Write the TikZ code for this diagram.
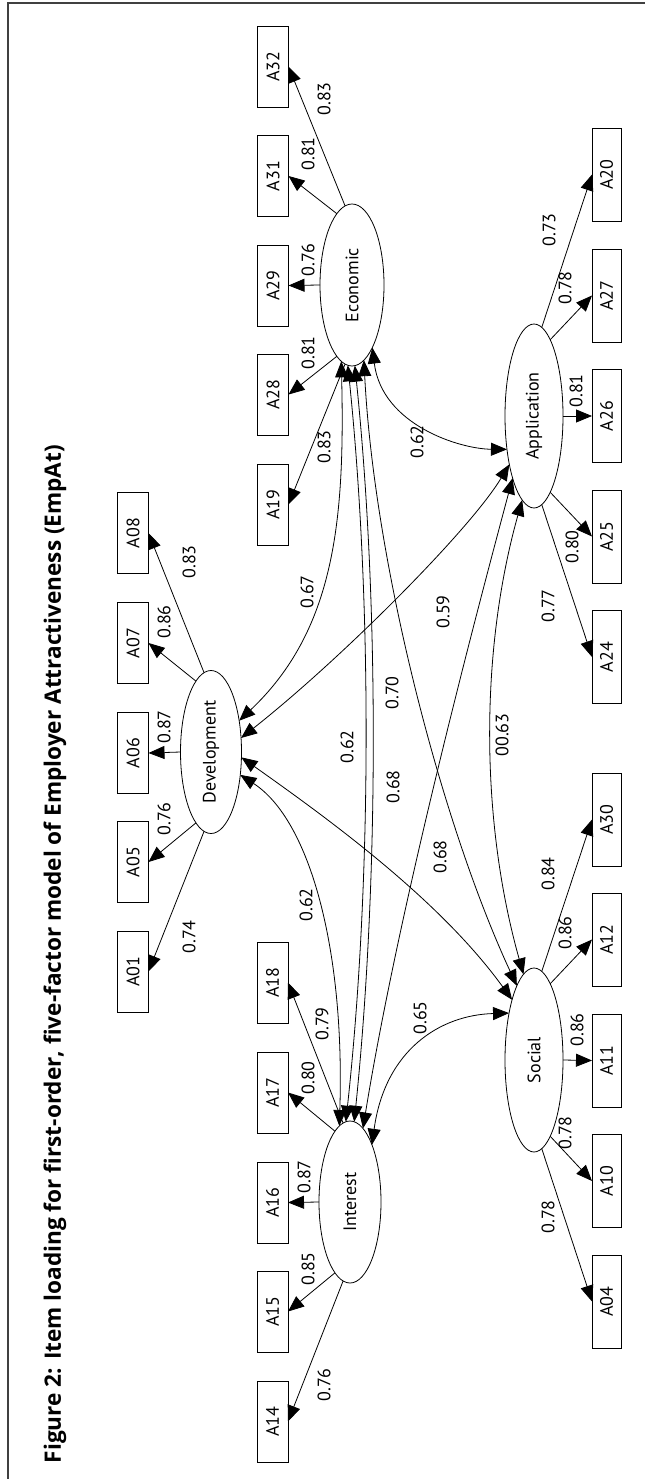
\documentclass[tikz,border=0pt]{standalone}
\usepackage{fontspec}
\setmainfont{PT Sans}
\newfontfamily\titlefont{Open Sans}
\usetikzlibrary{arrows.meta,shapes.geometric}
\newcommand{\rotlbl}[1]{\rotatebox{90}{#1}}

\begin{document}
\begin{tikzpicture}[x=1pt,y=-1pt,
  every node/.style={inner sep=0pt,outer sep=0pt},
  txt/.style={font=\fontsize{18}{18}\selectfont},
  obs/.style={txt,draw,line width=0.8pt,minimum width=31pt,minimum height=81pt},
  obsr/.style={obs,minimum width=29pt,minimum height=93pt},
  lat/.style={txt,draw,ellipse,line width=0.8pt},
  num/.style={txt},
  load/.style={-{Triangle[length=16pt,width=13pt]},line width=0.8pt},
  cov/.style={{Triangle[length=16pt,width=13pt]}-{Triangle[length=16pt,width=13pt]},line width=0.8pt},
  frame/.style={line width=1.3pt,black!75},
]
\useasboundingbox (0,0) rectangle (645,1479);

% corner of the surrounding frame
\draw[frame] (8,1479) -- (8,3) -- (645,3);

% title
\node (title) at (55,954) {\rotlbl{\titlefont\fontsize{22.6}{22.6}\selectfont\bfseries Figure 2: Item loading for first-order, five-factor model of Employer Attractiveness (EmpAt)}};

% latent factors
\node[lat,minimum width=64pt,minimum height=162pt] (eco) at (352,285) {\rotlbl{Economic}};
\node[lat,minimum width=58pt,minimum height=184pt] (app) at (534,416) {\rotlbl{Application}};
\node[lat,minimum width=61pt,minimum height=163pt] (dev) at (211,752) {\rotlbl{Development}};
\node[lat,minimum width=62pt,minimum height=162pt] (int) at (350,1202) {\rotlbl{Interest}};
\node[lat,minimum width=58pt,minimum height=184pt] (soc) at (534,1060) {\rotlbl{Social}};

% indicators: Economic
\node[obs] (a32) at (273,66.5) {\rotlbl{A32}};
\node[obs] (a31) at (273,176) {\rotlbl{A31}};
\node[obs] (a29) at (273,285.5) {\rotlbl{A29}};
\node[obs] (a28) at (273,394.5) {\rotlbl{A28}};
\node[obs] (a19) at (273,504.5) {\rotlbl{A19}};
% indicators: Development
\node[obs] (a08) at (133,533) {\rotlbl{A08}};
\node[obs] (a07) at (133,643) {\rotlbl{A07}};
\node[obs] (a06) at (133,753) {\rotlbl{A06}};
\node[obs] (a05) at (133,862) {\rotlbl{A05}};
\node[obs] (a01) at (133,971.5) {\rotlbl{A01}};
% indicators: Interest
\node[obs] (a18) at (272.5,982.5) {\rotlbl{A18}};
\node[obs] (a17) at (272.5,1092.5) {\rotlbl{A17}};
\node[obs] (a16) at (272.5,1202.5) {\rotlbl{A16}};
\node[obs] (a15) at (272.5,1311.5) {\rotlbl{A15}};
\node[obs] (a14) at (272.5,1421.5) {\rotlbl{A14}};
% indicators: Application
\node[obsr] (a20) at (606.5,174.5) {\rotlbl{A20}};
\node[obsr] (a27) at (606.5,295.5) {\rotlbl{A27}};
\node[obsr] (a26) at (606.5,416) {\rotlbl{A26}};
\node[obsr] (a25) at (606.5,536.5) {\rotlbl{A25}};
\node[obsr] (a24) at (606.5,657) {\rotlbl{A24}};
% indicators: Social
\node[obsr] (a30) at (606.5,819.5) {\rotlbl{A30}};
\node[obsr] (a12) at (606.5,939.5) {\rotlbl{A12}};
\node[obsr] (a11) at (606.5,1060.5) {\rotlbl{A11}};
\node[obsr] (a10) at (606.5,1181) {\rotlbl{A10}};
\node[obsr] (a04) at (606.5,1301.5) {\rotlbl{A04}};

% loadings
\draw[load] (eco.95) -- (a32.east);
\draw[load] (eco.102) -- (a31.east);
\draw[load] (eco.180) -- (a29.east);
\draw[load] (eco.258) -- (a28.east);
\draw[load] (eco.265) -- (a19.east);

\draw[load] (dev.95) -- (a08.east);
\draw[load] (dev.102) -- (a07.east);
\draw[load] (dev.180) -- (a06.east);
\draw[load] (dev.258) -- (a05.east);
\draw[load] (dev.265) -- (a01.east);

\draw[load] (int.95) -- (a18.east);
\draw[load] (int.102) -- (a17.east);
\draw[load] (int.180) -- (a16.east);
\draw[load] (int.258) -- (a15.east);
\draw[load] (int.265) -- (a14.east);

\draw[load] (app.85) -- (a20.west);
\draw[load] (app.78) -- (a27.west);
\draw[load] (app.0) -- (a26.west);
\draw[load] (app.282) -- (a25.west);
\draw[load] (app.275) -- (a24.west);

\draw[load] (soc.85) -- (a30.west);
\draw[load] (soc.78) -- (a12.west);
\draw[load] (soc.0) -- (a11.west);
\draw[load] (soc.282) -- (a10.west);
\draw[load] (soc.275) -- (a04.west);

% factor covariances
\draw[cov] (eco.288) .. controls (382,425) and (460,449) .. (app.231);
\draw[cov] (eco.262) .. controls (345,520) and (335,630) .. (dev.48);
\draw[cov] (eco.267) .. controls (372,600) and (372,880) .. (int.93);
\draw[cov] (eco.272) .. controls (379,600) and (379,880) .. (int.87);
\draw[cov] (eco.279) .. controls (374,560) and (440,820) .. (soc.103);
\draw[cov] (dev.25) .. controls (340,660) and (470,530) .. (app.243);
\draw[cov] (dev.-38) .. controls (310,820) and (345,950) .. (int.98);
\draw[cov] (dev.-10) .. controls (330,820) and (440,900) .. (soc.110);
\draw[cov] (int.80) .. controls (400,900) and (480,600) .. (app.251);
\draw[cov] (int.69) .. controls (385,1050) and (440,1015) .. (soc.118);
\draw[cov] (app.262) .. controls (480,650) and (480,820) .. (soc.97);

% loading values
\node[num] (v32) at (324,99) {\rotlbl{0.83}};
\node[num] (v31) at (308,154) {\rotlbl{0.81}};
\node[num] (v29) at (308,260) {\rotlbl{0.76}};
\node[num] (v28) at (308,353) {\rotlbl{0.81}};
\node[num] (v19) at (324,447) {\rotlbl{0.83}};

\node[num] (v08) at (189,562) {\rotlbl{0.83}};
\node[num] (v07) at (164,622) {\rotlbl{0.86}};
\node[num] (v06) at (164,727) {\rotlbl{0.87}};
\node[num] (v05) at (164,819) {\rotlbl{0.76}};
\node[num] (v01) at (189,937) {\rotlbl{0.74}};

\node[num] (v18) at (322,1024) {\rotlbl{0.79}};
\node[num] (v17) at (308,1078) {\rotlbl{0.80}};
\node[num] (v16) at (304,1177) {\rotlbl{0.87}};
\node[num] (v15) at (308,1269) {\rotlbl{0.85}};
\node[num] (v14) at (324,1385) {\rotlbl{0.76}};

\node[num] (v20) at (549,230) {\rotlbl{0.73}};
\node[num] (v27) at (565,288) {\rotlbl{0.78}};
\node[num] (v26) at (576,391) {\rotlbl{0.81}};
\node[num] (v25) at (572,547) {\rotlbl{0.80}};
\node[num] (v24) at (548,606) {\rotlbl{0.77}};

\node[num] (v30) at (548,874) {\rotlbl{0.84}};
\node[num] (v12) at (565,933) {\rotlbl{0.86}};
\node[num] (v11) at (577,1030) {\rotlbl{0.86}};
\node[num] (v10) at (565,1133) {\rotlbl{0.78}};
\node[num] (v04) at (548,1217) {\rotlbl{0.78}};

% covariance values
\node[num] (cea) at (417,442) {\rotlbl{0.62}};
\node[num] (ced) at (307,592) {\rotlbl{0.67}};
\node[num] (c1) at (443,612) {\rotlbl{0.59}};
\node[num] (c2) at (392,693) {\rotlbl{0.70}};
\node[num] (c3) at (347,747) {\rotlbl{0.62}};
\node[num] (c4) at (393,787) {\rotlbl{0.68}};
\node[num] (c5) at (440,857) {\rotlbl{0.68}};
\node[num] (cas) at (502,735) {\rotlbl{00.63}};
\node[num] (cdi) at (306,905) {\rotlbl{0.62}};
\node[num] (cis) at (420,1018) {\rotlbl{0.65}};
\end{tikzpicture}
\end{document}
